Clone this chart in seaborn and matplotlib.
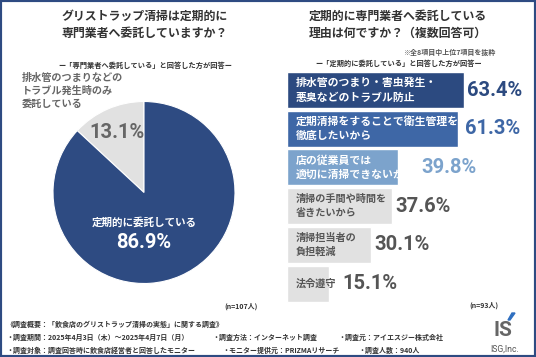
'''
Grease trap cleaning survey: pie + horizontal bar chart
'''

import matplotlib
matplotlib.use('Agg')
import matplotlib.pyplot as plt
from matplotlib.patches import Rectangle, Polygon
import pandas as pd
import seaborn as sns

# Pie data
pie_labels = ['トラブル発生時のみ委託', '定期的に委託している']
pie_values = [13.1, 86.9]
pie_colors = ['#e1e1e1', '#2e4b82']

# Bar data
reasons = [
    '排水管のつまり・害虫発生・\n悪臭などのトラブル防止',
    '定期清掃をすることで衛生管理を\n徹底したいから',
    '店の従業員では\n適切に清掃できないから',
    '清掃の手間や時間を\n省きたいから',
    '清掃担当者の\n負担軽減',
    '法令遵守',
]
reason_values = [63.4, 61.3, 39.8, 37.6, 30.1, 15.1]
bar_colors = ['#2c4a80', '#3e67a6', '#7ca3cc', '#e1e1e1', '#e1e1e1', '#e1e1e1']
text_colors = ['white', 'white', 'white', '#555555', '#555555', '#555555']
value_colors = ['#2c4a80', '#3e67a6', '#7ca3cc', '#555555', '#555555', '#555555']

sns.set_theme(style='white')
plt.rcParams['font.family'] = ['Noto Sans CJK JP', 'DejaVu Sans']
num_font = ['Liberation Sans Narrow', 'Roboto', 'DejaVu Sans']

fig = plt.figure(figsize=(5.36, 3.57), dpi=100)
fig.patch.set_facecolor('white')

# Background axes in pixel coords for all free text (kept on top)
bg = fig.add_axes([0, 0, 1, 1])
bg.set_xlim(0, 536)
bg.set_ylim(357, 0)
bg.axis('off')
bg.patch.set_alpha(0)
bg.set_zorder(10)

dark = '#333333'

# Left panel titles
bg.text(145, 16, 'グリストラップ清掃は定期的に', ha='center', va='center',
        fontsize=8.6, fontweight='bold', color=dark)
bg.text(145, 33, '専門業者へ委託していますか？', ha='center', va='center',
        fontsize=8.6, fontweight='bold', color=dark)
bg.text(145, 65, 'ー「専門業者へ委託している」と回答した方が回答ー', ha='center',
        va='center', fontsize=5.2, fontweight='bold', color=dark)

# Right panel titles
bg.text(398, 16, '定期的に専門業者へ委託している', ha='center', va='center',
        fontsize=8.6, fontweight='bold', color=dark)
bg.text(398, 33, '理由は何ですか？（複数回答可）', ha='center', va='center',
        fontsize=8.6, fontweight='bold', color=dark)
bg.text(495, 52, '※全8項目中上位7項目を抜粋', ha='right', va='center',
        fontsize=5, fontweight='bold', color='#555555')
bg.text(399, 63, 'ー「定期的に委託している」と回答した方が回答ー', ha='center',
        va='center', fontsize=5.2, fontweight='bold', color=dark)

# Pie chart
pax = fig.add_axes([(144 - 91) / 536, 1 - (192.5 + 91) / 357, 182 / 536, 182 / 357])
pax.pie(pie_values, colors=pie_colors, startangle=90, counterclock=True,
        wedgeprops=dict(edgecolor='white', linewidth=0.8))
pax.set_xlim(-1, 1)
pax.set_ylim(-1, 1)
pax.patch.set_alpha(0)

bg.text(22, 91, '排水管のつまりなどの\nトラブル発生時のみ\n委託している', ha='left',
        va='center', fontsize=7.3, fontweight='bold', color='#666666',
        linespacing=1.35)
bg.text(117, 133, f'{pie_values[0]}%', ha='center', va='center', fontsize=14.5,
        fontweight='bold', color='#666666', family=num_font)
bg.text(144, 222, '定期的に委託している', ha='center', va='center', fontsize=7.6,
        fontweight='bold', color='white')
bg.text(144, 242, f'{pie_values[1]}%', ha='center', va='center', fontsize=14.5,
        fontweight='bold', color='white', family=num_font)
bg.text(258, 306, '(n=107人)', ha='right', va='center', fontsize=5,
        fontweight='bold', color=dark)

# Bar chart
df = pd.DataFrame({'reason': reasons, 'value': reason_values})
bax = fig.add_axes([287 / 536, 1 - 302.9 / 357, 249 / 536, 232.2 / 357])
sns.barplot(data=df, x='value', y='reason', hue='reason', palette=bar_colors,
            order=reasons, hue_order=reasons, legend=False, width=0.93,
            saturation=1, ax=bax)
bax.set_xlim(0, 249 / 2.79)
bax.set_ylim(5.5, -0.5)
bax.axis('off')
bax.patch.set_alpha(0)

# Labels inside bars
labels = []
for i, (txt, col) in enumerate(zip(reasons, text_colors)):
    t = bax.text(0, i, txt, ha='left', va='center', color=col,
                 fontsize=7.8 if i < 3 else 7.3, fontweight='bold',
                 linespacing=1.5)
    t.set_transform(bax.transData + matplotlib.transforms.ScaledTranslation(
        9 / 100, 0, fig.dpi_scale_trans))
    labels.append(t)

fig.canvas.draw()
renderer = fig.canvas.get_renderer()
inv = bax.transData.inverted()
for i, (val, col) in enumerate(zip(reason_values, value_colors)):
    bar_end = bax.transData.transform((val, i))[0] + 3
    text_end = labels[i].get_window_extent(renderer).x1 + 6
    x_disp = max(bar_end, text_end)
    x_data = inv.transform((x_disp, 0))[0]
    bax.text(x_data, i, f'{val}%', ha='left', va='center', color=col,
             fontsize=14.5, fontweight='bold', family=num_font)

bg.text(498, 305, '(n=93人)', ha='right', va='center', fontsize=5,
        fontweight='bold', color=dark)

# Footer
fs = 5
bg.text(6, 324, '《調査概要：「飲食店のグリストラップ清掃の実態」に関する調査》',
        ha='left', va='center', fontsize=fs, fontweight='bold', color=dark)
bg.text(6, 337, '・調査期間：2025年4月3日（木）～2025年4月7日（月）',
        ha='left', va='center', fontsize=fs, fontweight='bold', color=dark)
bg.text(212, 337, '・調査方法：インターネット調査', ha='left', va='center',
        fontsize=fs, fontweight='bold', color=dark)
bg.text(338, 337, '・調査元：アイエスジー株式会社', ha='left', va='center',
        fontsize=fs, fontweight='bold', color=dark)
bg.text(6, 350, '・調査対象：調査回答時に飲食店経営者と回答したモニター',
        ha='left', va='center', fontsize=fs, fontweight='bold', color=dark)
bg.text(222, 350, '・モニター提供元：PRIZMAリサーチ', ha='left', va='center',
        fontsize=fs, fontweight='bold', color=dark)
bg.text(358, 350, '・調査人数：940人', ha='left', va='center', fontsize=fs,
        fontweight='bold', color=dark)

# Logo
bg.text(503, 330, 'IS', ha='center', va='center', fontsize=15, fontweight='bold',
        color='#666666', family=['Roboto', 'DejaVu Sans'])
bg.add_patch(Polygon([(508, 320), (512, 313), (515, 313), (510, 320)],
                     closed=True, color='#2f6fc0'))
bg.text(505, 349, 'ISG,Inc.', ha='center', va='center', fontsize=6.2,
        color='#555555', family=['Roboto', 'DejaVu Sans'])

# Frame
fig.patches.append(Rectangle((0, 0), 1, 1, transform=fig.transFigure,
                             fill=False, lw=3, ec='#2e4b82'))

plt.savefig('out.png', dpi=100)
